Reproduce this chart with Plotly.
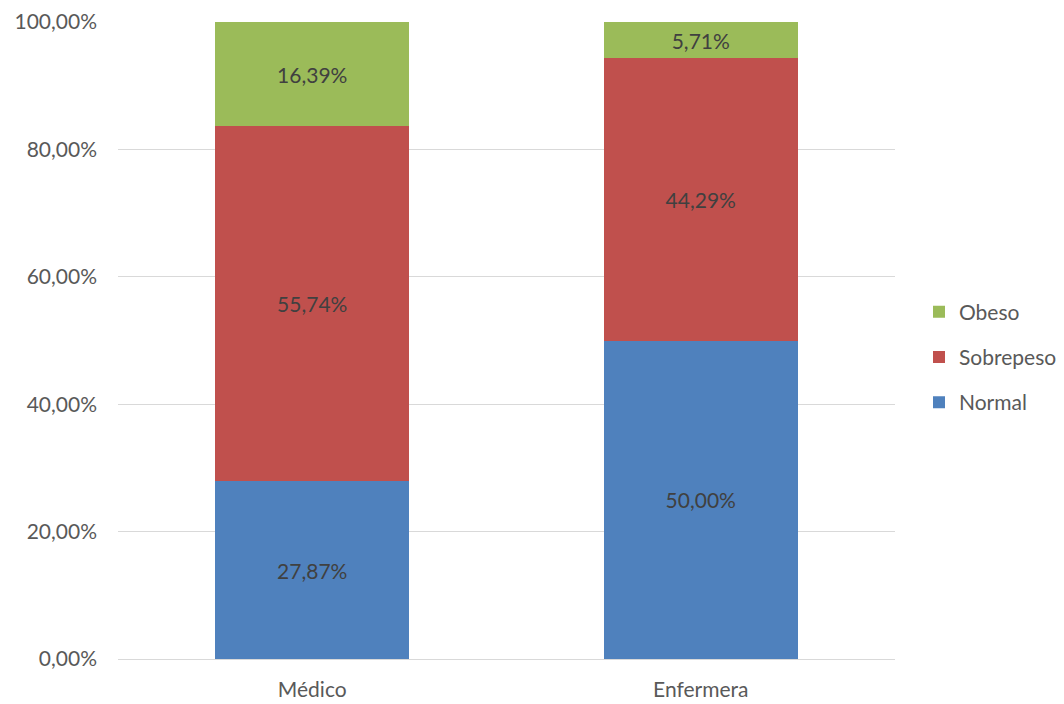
import plotly.graph_objects as go

categories = ["Médico", "Enfermera"]
normal = [27.87, 50.00]
sobrepeso = [55.74, 44.29]
obeso = [16.39, 5.71]
y_ticks = [0, 20, 40, 60, 80, 100]
y_tick_text = ["0,00%", "20,00%", "40,00%", "60,00%", "80,00%", "100,00%"]

series = [
    ("Normal", normal, "#4F81BD", 3),
    ("Sobrepeso", sobrepeso, "#C0504D", 2),
    ("Obeso", obeso, "#9BBB59", 1),
]

FONT = "Lato, Open Sans, sans-serif"
SIZE = 21

fig = go.Figure()
for name, vals, color, rank in series:
    fig.add_trace(go.Bar(
        x=categories, y=vals, name=name, legendgroup=name, legendrank=rank,
        marker=dict(color=color, line=dict(width=0)),
        texttemplate="%{y:.2f}%", textposition="inside",
        insidetextanchor="middle", constraintext="none",
        textfont=dict(color="#404040", size=SIZE, family=FONT),
        hoverinfo="skip",
    ))

fig.update_layout(
    barmode="stack",
    bargap=0.5,
    separators=",.",
    width=1064, height=704,
    margin=dict(l=118, r=169, t=22, b=45, autoexpand=False),
    paper_bgcolor="white", plot_bgcolor="white",
    font=dict(family=FONT, size=SIZE, color="#595959"),
    uniformtext=dict(minsize=SIZE, mode="show"),
    legend=dict(
        xref="container", yref="container",
        x=919 / 1064, y=1 - 357 / 704, xanchor="left", yanchor="middle",
        traceorder="grouped", tracegroupgap=15,
        font=dict(size=SIZE, color="#595959", family=FONT),
        itemwidth=30,
    ),
    xaxis=dict(showline=True, linecolor="#d9d9d9", linewidth=1,
               ticks="", automargin=False, ticklabelstandoff=12),
    yaxis=dict(range=[0, 100], tickvals=y_ticks, ticktext=y_tick_text,
               showgrid=True, gridcolor="#d9d9d9",
               gridwidth=1, zeroline=False, ticks="", ticklabelstandoff=20,
               automargin=False),
)

fig.write_html("out.html")
